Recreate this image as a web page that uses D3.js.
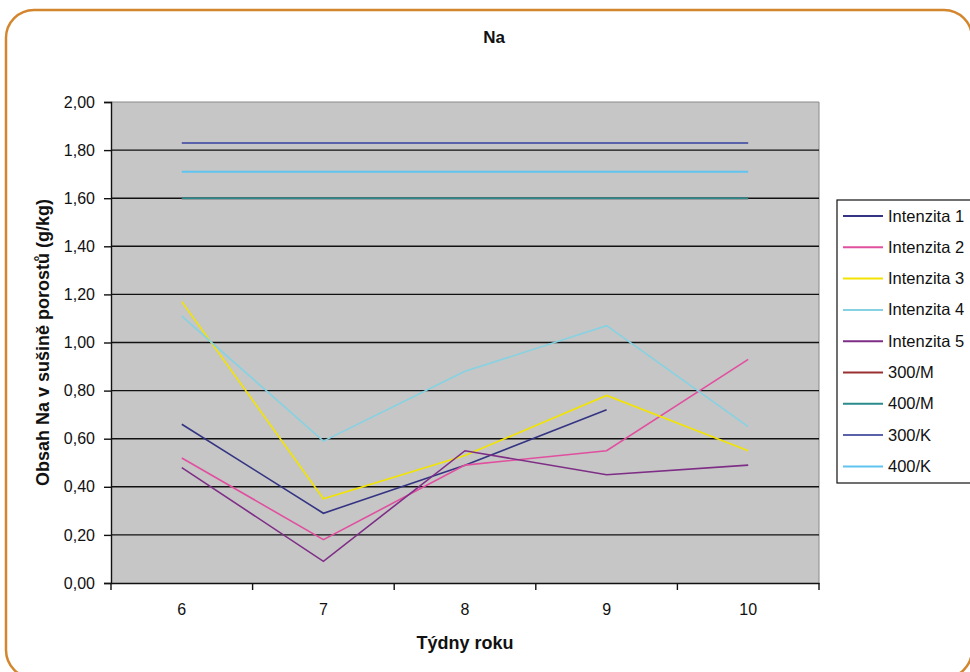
<!DOCTYPE html>
<html><head><meta charset="utf-8">
<script src="https://cdn.jsdelivr.net/npm/d3@7"></script>
<style>body{margin:0;background:#fff;}svg{display:block;font-family:Arial,"Liberation Sans",sans-serif;}</style>
</head><body>
<svg id="c" width="970" height="672"></svg>
<script>
const weeks = ["6","7","8","9","10"];
const yTicks = [0,0.2,0.4,0.6,0.8,1.0,1.2,1.4,1.6,1.8,2.0];
const seriesNames = ["Intenzita 1","Intenzita 2","Intenzita 3","Intenzita 4","Intenzita 5","300/M","400/M","300/K","400/K"];
const seriesColors = ["#343483","#e0509f","#f2e400","#86d2e2","#7e2e86","#9a3030","#2a8a8c","#5a62aa","#60c4f0"];
const int1 = [0.66,0.29,0.49,0.72,null];
const int2 = [0.52,0.18,0.49,0.55,0.93];
const int3 = [1.17,0.35,0.53,0.78,0.55];
const int4 = [1.11,0.59,0.88,1.07,0.65];
const int5 = [0.48,0.09,0.55,0.45,0.49];
const m300 = [1.60,1.60,1.60,1.60,1.60];
const m400 = [1.60,1.60,1.60,1.60,1.60];
const k300 = [1.83,1.83,1.83,1.83,1.83];
const k400 = [1.71,1.71,1.71,1.71,1.71];
const seriesValues = [int1,int2,int3,int4,int5,m300,m400,k300,k400];

const FONT = "Arial,'Liberation Sans',sans-serif";
const svg = d3.select("#c");
// outer rounded frame
svg.append("rect").attr("x",6).attr("y",10).attr("width",966).attr("height",668)
  .attr("rx",28).attr("fill","#fff").attr("stroke","#d4862e").attr("stroke-width",2.5);

const L=111, R=819, T=102, B=583;
const x = d3.scaleBand().domain(weeks).range([L,R]).padding(0);
const y = d3.scaleLinear().domain([0,2]).range([B,T]);

svg.append("rect").attr("x",L).attr("y",T).attr("width",R-L).attr("height",B-T).attr("fill","#c6c6c6");
svg.append("path").attr("d",`M${L},${T}H${R}V${B}`).attr("fill","none").attr("stroke","#8a8a8a").attr("stroke-width",1);

// gridlines
svg.append("g").selectAll("line").data(yTicks.filter(d=>d>0 && d<2)).join("line")
  .attr("x1",L).attr("x2",R).attr("y1",d=>y(d)).attr("y2",d=>y(d))
  .attr("stroke","#111").attr("stroke-width",1.4);

// lines
const line = d3.line().defined(d=>d.v!=null).x(d=>x(d.w)+x.bandwidth()/2).y(d=>y(d.v));
seriesValues.forEach((vals,i)=>{
  svg.append("path").datum(weeks.map((w,j)=>({w,v:vals[j]})))
    .attr("d",line).attr("fill","none").attr("stroke",seriesColors[i])
    .attr("stroke-width", i>=5?2:1.6);
});

// y axis
const ya = svg.append("g").attr("transform",`translate(${L},0)`)
  .call(d3.axisLeft(y).tickValues(yTicks).tickSize(7).tickPadding(9)
    .tickFormat(d=>d3.format(".2f")(d).replace(".",",")));
ya.select(".domain").attr("stroke","#111").attr("stroke-width",1.4);
ya.selectAll(".tick line").attr("stroke","#111").attr("stroke-width",1.4);
ya.selectAll("text").attr("font-size",16).attr("fill","#111").attr("font-family",FONT);

// x axis
const xa = svg.append("g").attr("transform",`translate(0,${B})`)
  .call(d3.axisBottom(x).tickSize(0).tickPadding(21));
xa.select(".domain").attr("stroke","#111").attr("stroke-width",1.4);
xa.selectAll("text").attr("font-size",16).attr("fill","#111").attr("font-family",FONT);
const bounds = weeks.map(w=>x(w)).concat([R]);
svg.append("g").selectAll("line").data(bounds).join("line")
  .attr("x1",d=>d).attr("x2",d=>d).attr("y1",B).attr("y2",B+7)
  .attr("stroke","#111").attr("stroke-width",1.4);

// titles
svg.append("text").attr("x",494).attr("y",43).attr("text-anchor","middle")
  .attr("font-size",17).attr("font-weight","bold").attr("fill","#111").text("Na");
svg.append("text").attr("x",465).attr("y",649).attr("text-anchor","middle")
  .attr("font-size",18).attr("font-weight","bold").attr("fill","#111").text("Týdny roku");
svg.append("text").attr("transform",`translate(49,${(T+B)/2}) rotate(-90)`).attr("text-anchor","middle")
  .attr("font-size",18).attr("font-weight","bold").attr("fill","#111").text("Obsah Na v sušině porostů (g/kg)");

// legend
const lg = svg.append("g");
lg.append("rect").attr("x",837).attr("y",200).attr("width",160).attr("height",283)
  .attr("fill","#fff").attr("stroke","#111").attr("stroke-width",1.2);
seriesNames.forEach((n,i)=>{
  const yy = 216 + i*31.3;
  lg.append("line").attr("x1",843).attr("x2",883).attr("y1",yy).attr("y2",yy)
    .attr("stroke",seriesColors[i]).attr("stroke-width",2);
  lg.append("text").attr("x",888).attr("y",yy+5.5).attr("font-size",16.5).attr("fill","#111").text(n);
});
</script>
</body></html>
